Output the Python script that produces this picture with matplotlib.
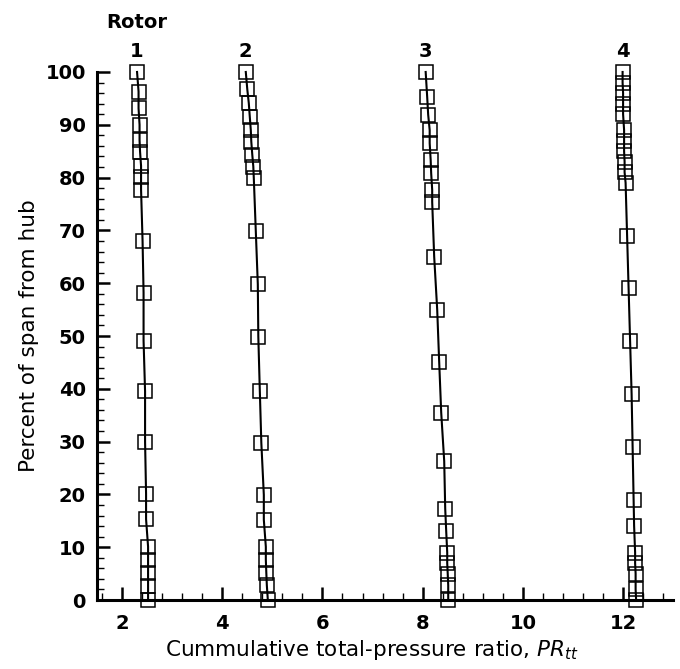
import matplotlib
matplotlib.use("Agg")
import matplotlib.pyplot as plt
from matplotlib.ticker import MultipleLocator

plt.rcParams['font.family'] = ['DejaVu Sans']
plt.rcParams['mathtext.fontset'] = 'custom'
plt.rcParams['mathtext.it'] = 'DejaVu Sans:italic'
plt.rcParams['mathtext.rm'] = 'DejaVu Sans'

# span (percent from hub) and cumulative total-pressure ratio for each rotor
span_r1 = [100, 96.3, 93.1, 90.0, 87.1, 84.9, 82.2, 80.2, 77.7, 68.0, 58.2, 49.1,
           39.5, 30.0, 20.1, 15.3, 10.1, 7.6, 5.1, 2.6, 0]
pr_r1 = [2.30, 2.33, 2.33, 2.35, 2.35, 2.36, 2.38, 2.38, 2.38, 2.41, 2.43, 2.43,
         2.46, 2.46, 2.48, 2.48, 2.52, 2.52, 2.52, 2.52, 2.52]

span_r2 = [100, 96.7, 94.1, 91.5, 89.0, 86.8, 84.3, 82.1, 79.9, 69.8, 59.8, 49.9,
           39.6, 29.8, 19.9, 15.2, 10.1, 7.6, 5.1, 2.8, 0]
pr_r2 = [4.47, 4.50, 4.53, 4.55, 4.57, 4.58, 4.60, 4.62, 4.63, 4.67, 4.71, 4.72,
         4.75, 4.78, 4.83, 4.83, 4.87, 4.87, 4.88, 4.89, 4.91]

span_r3 = [100, 95.3, 91.9, 89.0, 86.5, 83.3, 80.8, 77.7, 75.4, 65.0, 55.0, 45.0,
           35.5, 26.3, 17.3, 13.0, 9.0, 7.0, 5.0, 2.8, 0]
pr_r3 = [8.06, 8.09, 8.11, 8.14, 8.14, 8.16, 8.17, 8.19, 8.19, 8.23, 8.29, 8.33,
         8.37, 8.43, 8.45, 8.47, 8.49, 8.49, 8.50, 8.51, 8.51]

span_r4 = [100, 98, 96, 94, 92, 89, 87, 85, 83, 81, 79, 69, 59, 49, 39, 29, 19,
           14, 9, 7, 5, 2, 0]
pr_r4 = [11.99, 11.99, 12.0, 12.0, 12.0, 12.02, 12.02, 12.02, 12.03, 12.03, 12.05,
         12.08, 12.11, 12.14, 12.17, 12.19, 12.21, 12.22, 12.24, 12.24, 12.25,
         12.25, 12.26]

rotor_labels = ['1', '2', '3', '4']
rotors = [(pr_r1, span_r1), (pr_r2, span_r2), (pr_r3, span_r3), (pr_r4, span_r4)]

fig = plt.figure(figsize=(6.8, 6.69), dpi=100)
ax = fig.add_axes([0.1426, 0.1031, 0.8474, 0.7893])

for label, (pr, span) in zip(rotor_labels, rotors):
    ax.plot(pr, span, color='black', lw=1.5, zorder=3, clip_on=False)
    ax.plot(pr, span, ls='none', marker='s', ms=9.5, mfc='none', mec='black',
            mew=1.1, zorder=4, clip_on=False)
    ax.annotate(label, xy=(pr[0], 100), xytext=(0, 8), textcoords='offset points',
                ha='center', va='bottom', fontsize=14, fontweight='bold')

ax.annotate('Rotor', xy=(pr_r1[0], 100), xytext=(0, 29), textcoords='offset points',
            ha='center', va='bottom', fontsize=14, fontweight='bold')

ax.set_xlim(1.5, 13)
ax.set_ylim(0, 100)
ax.xaxis.set_major_locator(MultipleLocator(2))
ax.xaxis.set_minor_locator(MultipleLocator(0.4))
ax.yaxis.set_major_locator(MultipleLocator(10))
ax.yaxis.set_minor_locator(MultipleLocator(2))

for side in ['top', 'right']:
    ax.spines[side].set_visible(False)
for side in ['left', 'bottom']:
    ax.spines[side].set_linewidth(2.2)

ax.tick_params(which='major', direction='in', length=9.5, width=1.8, labelsize=14)
ax.tick_params(which='minor', direction='in', length=5, width=1)
ax.tick_params(axis='x', which='major', pad=10)
ax.tick_params(axis='y', which='major', pad=8)
for lbl in ax.get_xticklabels() + ax.get_yticklabels():
    lbl.set_fontweight('bold')

ax.set_xlabel('Cummulative total-pressure ratio, $\\mathit{PR}_{\\mathit{tt}}$', fontsize=15.5)
ax.set_ylabel('Percent of span from hub', fontsize=15.5)
ax.xaxis.set_label_coords(0.476, -0.072)
ax.yaxis.set_label_coords(-0.10, 0.5)

fig.savefig('out.png', dpi=100, facecolor='white')
